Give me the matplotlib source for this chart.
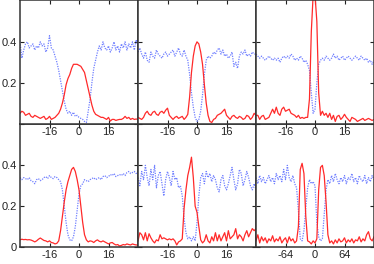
import numpy as np
import matplotlib
matplotlib.use("Agg")
import matplotlib.pyplot as plt

plt.rcParams['font.family'] = ['Liberation Sans', 'DejaVu Sans']
plt.rcParams['axes.unicode_minus'] = False

# x grids
x_narrow = list(range(-32, 33))          # panels 1-5
x_wide = list(range(-128, 129, 4))       # panel 6

# panel 1 (top left)
red_1 = [0.05, 0.06, 0.055, 0.04, 0.045, 0.05, 0.035, 0.03, 0.04, 0.035, 0.03,
         0.025, 0.03, 0.035, 0.02, 0.025, 0.035, 0.02, 0.025, 0.03, 0.04, 0.05,
         0.07, 0.1, 0.14, 0.19, 0.22, 0.24, 0.27, 0.29, 0.29, 0.29, 0.285, 0.28,
         0.265, 0.25, 0.21, 0.17, 0.13, 0.09, 0.06, 0.045, 0.04, 0.035, 0.03,
         0.03, 0.025, 0.02, 0.03, 0.012, 0.02, 0.02, 0.015, 0.018, 0.02, 0.02,
         0.025, 0.035, 0.025, 0.03, 0.02, 0.025, 0.02, 0.022, 0.02]
blue_1 = [0.40, 0.32, 0.36, 0.39, 0.40, 0.37, 0.38, 0.39, 0.36, 0.38, 0.37,
          0.40, 0.38, 0.39, 0.35, 0.37, 0.43, 0.37, 0.36, 0.33, 0.30, 0.26,
          0.21, 0.16, 0.11, 0.07, 0.05, 0.06, 0.04, 0.055, 0.035, 0.04, 0.03,
          0.025, 0.02, 0.01, 0.005, 0.06, 0.12, 0.2, 0.27, 0.31, 0.35, 0.38,
          0.36, 0.40, 0.37, 0.36, 0.38, 0.35, 0.37, 0.40, 0.36, 0.38, 0.35,
          0.39, 0.37, 0.40, 0.36, 0.39, 0.37, 0.40, 0.36, 0.41, 0.38]

# panel 2 (top middle)
red_2 = [0.03, 0.025, 0.02, 0.03, 0.05, 0.06, 0.045, 0.04, 0.055, 0.06, 0.045,
         0.04, 0.055, 0.06, 0.05, 0.065, 0.075, 0.04, 0.03, 0.02, 0.03, 0.035,
         0.025, 0.03, 0.035, 0.02, 0.03, 0.045, 0.13, 0.25, 0.33, 0.38, 0.40,
         0.39, 0.35, 0.29, 0.19, 0.1, 0.04, 0.01, 0.005, 0.02, 0.025, 0.04,
         0.045, 0.05, 0.06, 0.07, 0.04, 0.03, 0.02, 0.035, 0.04, 0.03, 0.025,
         0.035, 0.03, 0.02, 0.025, 0.04, 0.035, 0.02, 0.03, 0.05, 0.04]
blue_2 = [0.35, 0.37, 0.34, 0.32, 0.35, 0.31, 0.30, 0.35, 0.33, 0.32, 0.36,
          0.34, 0.33, 0.32, 0.34, 0.35, 0.33, 0.34, 0.35, 0.36, 0.33, 0.35,
          0.37, 0.34, 0.33, 0.36, 0.33, 0.31, 0.24, 0.15, 0.08, 0.03, 0.01,
          0.02, 0.06, 0.14, 0.24, 0.31, 0.33, 0.32, 0.33, 0.35, 0.34, 0.36,
          0.37, 0.34, 0.36, 0.33, 0.34, 0.32, 0.33, 0.35, 0.28, 0.30, 0.27,
          0.33, 0.35, 0.34, 0.36, 0.33, 0.34, 0.33, 0.35, 0.34, 0.34]

# panel 3 (top right)
red_3 = [0.04, 0.04, 0.02, 0.035, 0.04, 0.02, 0.025, 0.03, 0.05, 0.07, 0.05,
         0.08, 0.05, 0.04, 0.07, 0.08, 0.06, 0.065, 0.07, 0.05, 0.045, 0.04,
         0.03, 0.04, 0.025, 0.03, 0.025, 0.03, 0.03, 0.12, 0.45, 0.63, 0.63,
         0.5, 0.15, 0.04, 0.06, 0.04, 0.05, 0.03, 0.05, 0.02, 0.04, 0.01,
         0.035, 0.04, 0.02, 0.03, 0.045, 0.03, 0.02, 0.01, 0.03, 0.025, 0.02,
         0.01, 0.015, 0.02, 0.025, 0.015, 0.02, 0.025, 0.02, 0.015, 0.02]
blue_3 = [0.34, 0.33, 0.32, 0.33, 0.32, 0.31, 0.32, 0.33, 0.32, 0.31, 0.32,
          0.31, 0.32, 0.30, 0.32, 0.33, 0.32, 0.33, 0.32, 0.34, 0.33, 0.31,
          0.32, 0.31, 0.33, 0.32, 0.30, 0.31, 0.29, 0.26, 0.15, 0.05, 0.07,
          0.2, 0.29, 0.31, 0.32, 0.31, 0.33, 0.32, 0.31, 0.32, 0.34, 0.32,
          0.33, 0.31, 0.32, 0.33, 0.31, 0.32, 0.33, 0.32, 0.31, 0.32, 0.33,
          0.32, 0.31, 0.33, 0.32, 0.31, 0.32, 0.30, 0.31, 0.29, 0.31]

# panel 4 (bottom left)
red_4 = [0.035, 0.038, 0.036, 0.037, 0.035, 0.036, 0.034, 0.03, 0.025, 0.03,
         0.038, 0.044, 0.038, 0.032, 0.03, 0.025, 0.03, 0.022, 0.02, 0.015,
         0.018, 0.03, 0.08, 0.15, 0.22, 0.28, 0.32, 0.35, 0.38, 0.39, 0.37,
         0.33, 0.28, 0.2, 0.12, 0.06, 0.035, 0.025, 0.03, 0.028, 0.022, 0.03,
         0.035, 0.028, 0.025, 0.03, 0.025, 0.02, 0.015, 0.02, 0.022, 0.015,
         0.01, 0.012, 0.005, 0.008, 0.012, 0.01, 0.015, 0.012, 0.01, 0.015,
         0.012, 0.01, 0.01]
blue_4 = [0.34, 0.33, 0.34, 0.335, 0.33, 0.34, 0.325, 0.32, 0.31, 0.33, 0.335,
          0.325, 0.33, 0.34, 0.345, 0.335, 0.35, 0.34, 0.335, 0.345, 0.34,
          0.33, 0.32, 0.28, 0.2, 0.12, 0.06, 0.035, 0.03, 0.05, 0.1, 0.18,
          0.26, 0.3, 0.31, 0.33, 0.325, 0.32, 0.33, 0.335, 0.34, 0.33, 0.335,
          0.34, 0.33, 0.345, 0.35, 0.34, 0.345, 0.355, 0.35, 0.36, 0.345,
          0.35, 0.355, 0.35, 0.36, 0.35, 0.365, 0.37, 0.36, 0.365, 0.37,
          0.36, 0.37]

# panel 5 (bottom middle)
red_5 = [0.03, 0.07, 0.06, 0.035, 0.07, 0.03, 0.065, 0.045, 0.03, 0.02, 0.035,
         0.03, 0.06, 0.04, 0.045, 0.04, 0.035, 0.04, 0.035, 0.04, 0.03, 0.01,
         0.025, 0.03, 0.04, 0.19, 0.28, 0.35, 0.39, 0.44, 0.34, 0.2, 0.17, 0.1,
         0.035, 0.02, 0.03, 0.06, 0.03, 0.02, 0.05, 0.03, 0.07, 0.03, 0.06,
         0.03, 0.05, 0.07, 0.03, 0.08, 0.04, 0.05, 0.06, 0.09, 0.04, 0.06,
         0.05, 0.03, 0.06, 0.08, 0.05, 0.07, 0.09, 0.08, 0.09]
blue_5 = [0.34, 0.30, 0.37, 0.33, 0.40, 0.34, 0.30, 0.38, 0.33, 0.40, 0.29,
          0.35, 0.37, 0.31, 0.25, 0.33, 0.37, 0.34, 0.30, 0.37, 0.33, 0.34,
          0.29, 0.30, 0.25, 0.14, 0.07, 0.04, 0.05, 0.03, 0.05, 0.03, 0.12,
          0.25, 0.34, 0.36, 0.31, 0.37, 0.34, 0.36, 0.32, 0.35, 0.33, 0.29,
          0.27, 0.33, 0.35, 0.30, 0.28, 0.31, 0.35, 0.39, 0.33, 0.28, 0.31,
          0.38, 0.36, 0.30, 0.33, 0.37, 0.34, 0.30, 0.28, 0.31, 0.28]

# panel 6 (bottom right, wider window)
red_6 = [0.03, 0.06, 0.02, 0.05, 0.03, 0.045, 0.02, 0.04, 0.03, 0.055, 0.025,
         0.04, 0.03, 0.05, 0.02, 0.035, 0.045, 0.02, 0.05, 0.03, 0.04, 0.02,
         0.03, 0.1, 0.38, 0.41, 0.36, 0.15, 0.03, 0.025, 0.015, 0.03, 0.02,
         0.04, 0.28, 0.39, 0.40, 0.35, 0.22, 0.06, 0.02, 0.03, 0.015, 0.035,
         0.02, 0.04, 0.025, 0.03, 0.045, 0.02, 0.035, 0.025, 0.04, 0.02,
         0.035, 0.03, 0.05, 0.025, 0.04, 0.03, 0.06, 0.075, 0.04, 0.03, 0.05]
blue_6 = [0.34, 0.31, 0.35, 0.32, 0.34, 0.31, 0.33, 0.35, 0.32, 0.34, 0.31,
          0.36, 0.33, 0.35, 0.32, 0.38, 0.33, 0.40, 0.34, 0.32, 0.35, 0.31,
          0.29, 0.18, 0.04, 0.03, 0.08, 0.19, 0.29, 0.33, 0.31, 0.32, 0.30,
          0.12, 0.05, 0.03, 0.04, 0.16, 0.28, 0.33, 0.31, 0.35, 0.32, 0.36,
          0.33, 0.31, 0.34, 0.32, 0.35, 0.31, 0.34, 0.33, 0.36, 0.32, 0.34,
          0.31, 0.35, 0.33, 0.32, 0.35, 0.31, 0.34, 0.32, 0.35, 0.33]

panels = [
    (x_narrow, red_1, blue_1), (x_narrow, red_2, blue_2), (x_narrow, red_3, blue_3),
    (x_narrow, red_4, blue_4), (x_narrow, red_5, blue_5), (x_wide, red_6, blue_6),
]
xlims = [32, 32, 32, 32, 32, 128]
xticks = [[-16, 0, 16]] * 5 + [[-64, 0, 64]]

RED = '#ff2a2a'
BLUE = '#6f7fff'

W, H = 374, 264
fig = plt.figure(figsize=(W / 100, H / 100), dpi=100)
left, right, top, bottom = 20, 374, 0, 247
pw = (right - left) / 3
ph = (bottom - top) / 2

for i, (x, r, b) in enumerate(panels):
    row, col = divmod(i, 3)
    x0 = (left + col * pw) / W
    y0 = 1 - (top + (row + 1) * ph) / H
    ax = fig.add_axes([x0, y0, pw / W, ph / H], zorder=2 - row)
    ax.plot(x, b, color=BLUE, lw=0.9, ls=(0, (1, 1)))
    ax.plot(x, r, color=RED, lw=0.9)
    ax.set_xlim(-xlims[i], xlims[i])
    ax.set_ylim(0, 0.605)
    ax.set_xticks(xticks[i])
    ax.set_yticks([0, 0.2, 0.4])
    ax.tick_params(direction='in', top=True, right=True, length=3,
                   width=0.8, labelsize=8, pad=2.5, colors='#222222')
    for s in ax.spines.values():
        s.set_color('#333333')
        s.set_linewidth(1.1)
    if col == 0:
        if row == 0:
            ax.set_yticklabels(['', '0.2', '0.4'])
        else:
            ax.set_yticklabels(['0', '0.2', '0.4'])
    else:
        ax.set_yticklabels([])

fig.savefig('out.png', dpi=100)
